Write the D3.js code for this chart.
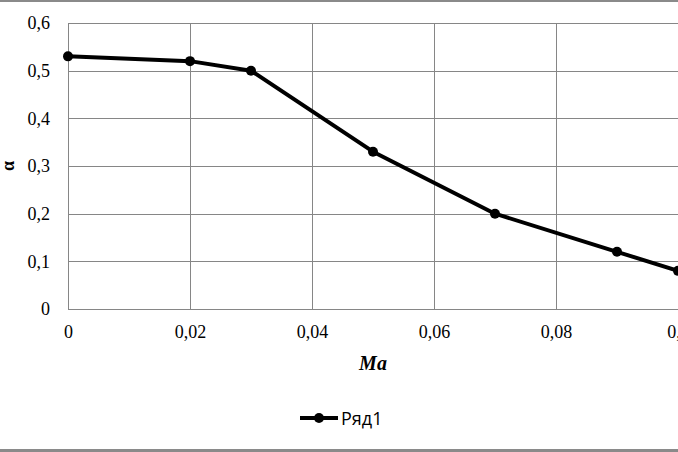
<!DOCTYPE html>
<html>
<head>
<meta charset="utf-8">
<script src="https://cdn.jsdelivr.net/npm/d3@7"></script>
<style>
  body { margin: 0; background: #fff; }
  svg { display: block; }
</style>
</head>
<body>
<div id="chart"></div>
<script>
const maValues = [0, 0.02, 0.03, 0.05, 0.07, 0.09, 0.1];
const alphaValues = [0.53, 0.52, 0.50, 0.33, 0.20, 0.12, 0.08];
const xTicks = [0, 0.02, 0.04, 0.06, 0.08, 0.1];
const yTicks = [0, 0.1, 0.2, 0.3, 0.4, 0.5, 0.6];
const seriesName = "Ряд1";

const svgWidth = 678;
const svgHeight = 452;
const margin = { top: 23, right: 0, bottom: 143, left: 68 };
const width = svgWidth - margin.left - margin.right;
const height = svgHeight - margin.top - margin.bottom;

const comma = function(d) { return String(d).replace(".", ","); };

const root = d3.select("#chart")
  .append("svg")
  .attr("width", svgWidth)
  .attr("height", svgHeight);

// frame lines of the cropped chart area
root.append("rect").attr("x", 0).attr("y", 0).attr("width", svgWidth).attr("height", 2).attr("fill", "#8a8a8a");
root.append("rect").attr("x", 0).attr("y", 449).attr("width", svgWidth).attr("height", 3).attr("fill", "#8a8a8a");

const svg = root.append("g")
  .attr("transform", "translate(" + margin.left + "," + margin.top + ")");

const xScale = d3.scaleLinear().domain([0, 0.1]).range([0, width]);
const yScale = d3.scaleLinear().domain([0, 0.6]).range([height, 0]);

// grid
svg.append("g")
  .selectAll("line.h")
  .data(yTicks)
  .enter()
  .append("line")
  .attr("x1", 0)
  .attr("x2", width)
  .attr("y1", function(d) { return Math.round(yScale(d)) + 0.5; })
  .attr("y2", function(d) { return Math.round(yScale(d)) + 0.5; })
  .style("stroke", "#868686")
  .style("stroke-width", 1);

svg.append("g")
  .selectAll("line.v")
  .data(xTicks)
  .enter()
  .append("line")
  .attr("x1", function(d) { return Math.round(xScale(d)) + 0.5; })
  .attr("x2", function(d) { return Math.round(xScale(d)) + 0.5; })
  .attr("y1", 0)
  .attr("y2", height)
  .style("stroke", "#868686")
  .style("stroke-width", 1);

// axes (labels only)
const xAxis = d3.axisBottom(xScale).tickValues(xTicks).tickFormat(comma).tickSize(0).tickPadding(16);
const gx = svg.append("g")
  .attr("transform", "translate(0," + height + ")")
  .call(xAxis);
gx.select(".domain").remove();
gx.selectAll("text")
  .style("font-family", "'Liberation Serif', serif")
  .style("font-size", "18px")
  .style("fill", "#000");

const yAxis = d3.axisLeft(yScale).tickValues(yTicks).tickFormat(comma).tickSize(0).tickPadding(18);
const gy = svg.append("g").call(yAxis);
gy.select(".domain").remove();
gy.selectAll("text")
  .style("font-family", "'Liberation Serif', serif")
  .style("font-size", "18px")
  .style("fill", "#000");

// axis titles
svg.append("text")
  .attr("x", xScale(0.05))
  .attr("y", height + 61)
  .style("text-anchor", "middle")
  .style("font-family", "'Liberation Serif', serif")
  .style("font-size", "20px")
  .style("font-weight", "bold")
  .style("font-style", "italic")
  .text("Ma");

svg.append("text")
  .attr("transform", "rotate(-90)")
  .attr("x", -(yScale(0.3)))
  .attr("y", -54)
  .style("text-anchor", "middle")
  .style("font-family", "'Liberation Serif', serif")
  .style("font-size", "18px")
  .style("font-weight", "bold")
  .text("α");

// series
const points = maValues.map(function(m, i) { return { x: m, y: alphaValues[i] }; });

const line = d3.line()
  .x(function(d) { return xScale(d.x); })
  .y(function(d) { return yScale(d.y); });

svg.append("path")
  .datum(points)
  .attr("d", line)
  .style("fill", "none")
  .style("stroke", "#000")
  .style("stroke-width", 4)
  .style("stroke-linejoin", "round");

svg.selectAll("circle")
  .data(points)
  .enter()
  .append("circle")
  .attr("cx", function(d) { return xScale(d.x); })
  .attr("cy", function(d) { return yScale(d.y); })
  .attr("r", 5)
  .style("fill", "#000");

// legend
const legend = root.append("g").attr("transform", "translate(300,418)");
legend.append("line")
  .attr("x1", 0).attr("x2", 38).attr("y1", 0).attr("y2", 0)
  .style("stroke", "#000").style("stroke-width", 4);
legend.append("circle").attr("cx", 19).attr("cy", 0).attr("r", 5).style("fill", "#000");
legend.append("text")
  .attr("x", 41)
  .attr("y", 7)
  .style("font-family", "'Open Sans', sans-serif")
  .style("font-size", "18px")
  .style("fill", "#000")
  .text(seriesName);
</script>
</body>
</html>
